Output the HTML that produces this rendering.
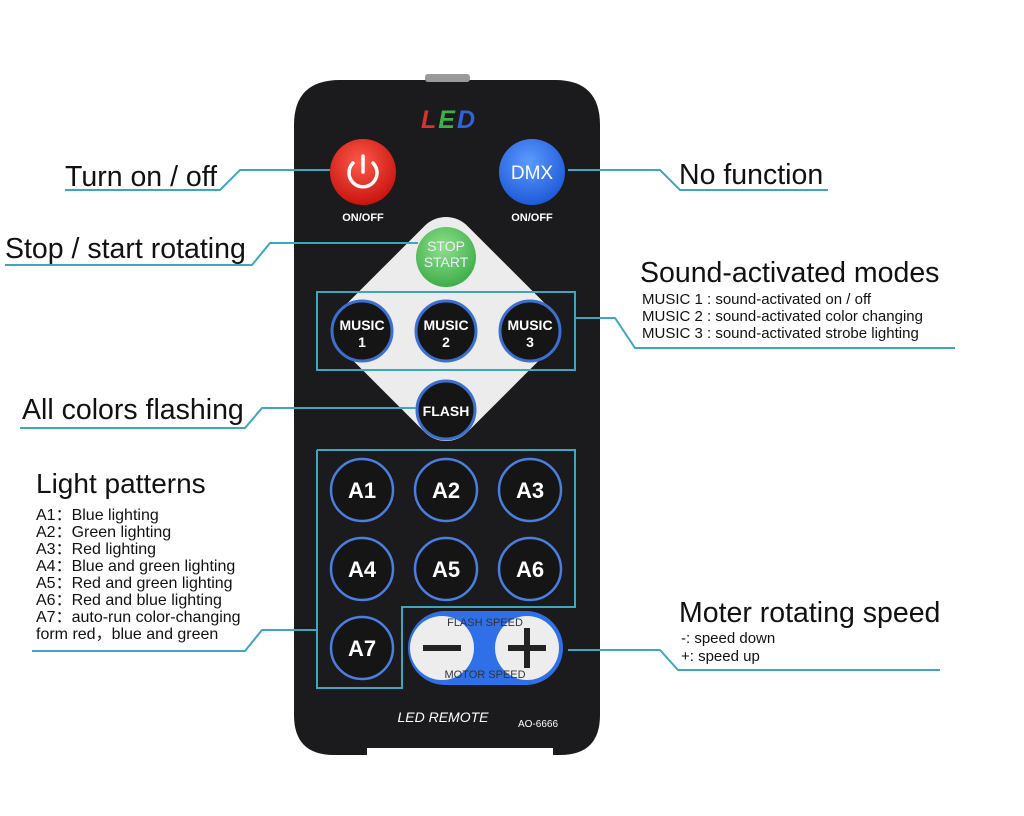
<!DOCTYPE html>
<html><head><meta charset="utf-8"><style>
body{margin:0;background:#fff;}
svg{display:block;font-family:"Liberation Sans",sans-serif;}
</style></head><body>
<svg width="1024" height="816" viewBox="0 0 1024 816">
<defs>
<radialGradient id="red" cx="45%" cy="35%" r="65%"><stop offset="0" stop-color="#ff5a4a"/><stop offset="1" stop-color="#c81410"/></radialGradient>
<radialGradient id="blue" cx="45%" cy="35%" r="65%"><stop offset="0" stop-color="#5b9cff"/><stop offset="1" stop-color="#1f5ad8"/></radialGradient>
<radialGradient id="green" cx="45%" cy="35%" r="65%"><stop offset="0" stop-color="#8fe08a"/><stop offset="1" stop-color="#3fae4a"/></radialGradient>
</defs>
<path d="M340,80 H555 Q600,80 600,125 V715 Q600,755 560,755 H553 V748 H367 V755 H334 Q294,755 294,715 V125 Q294,80 340,80 Z" fill="#1b1b1d"/>
<rect x="425" y="74" width="45" height="8" rx="3" fill="#999"/>
<text x="449" y="128" font-size="25" font-weight="bold" font-style="italic" text-anchor="middle" letter-spacing="2"><tspan fill="#d9322a">L</tspan><tspan fill="#3db04a">E</tspan><tspan fill="#2d64d8">D</tspan></text>
<circle cx="363" cy="172" r="33" fill="url(#red)"/>
<path d="M353,163 A14,14 0 1 0 373,163" fill="none" stroke="#fff" stroke-width="3.5" stroke-linecap="round"/>
<line x1="363" y1="156" x2="363" y2="172" stroke="#fff" stroke-width="3.5" stroke-linecap="round"/>
<text x="363" y="221" font-size="11" font-weight="bold" fill="#fff" text-anchor="middle">ON/OFF</text>
<circle cx="532" cy="172" r="33" fill="url(#blue)"/>
<text x="532" y="179" font-size="19" fill="#fff" text-anchor="middle">DMX</text>
<text x="532" y="221" font-size="11" font-weight="bold" fill="#fff" text-anchor="middle">ON/OFF</text>
<rect x="358" y="241" width="176" height="176" rx="30" fill="#ececec" transform="rotate(45 446 329)"/>
<circle cx="446" cy="257" r="30" fill="url(#green)"/>
<text x="446" y="251" font-size="14" fill="#eef" text-anchor="middle">STOP</text>
<text x="446" y="267" font-size="14" fill="#eef" text-anchor="middle">START</text>
<g fill="#151515" stroke="#3b6fd0" stroke-width="3">
<circle cx="362" cy="331" r="30"/><circle cx="446" cy="331" r="30"/><circle cx="530" cy="331" r="30"/>
<circle cx="446" cy="410" r="29"/>
</g>
<g font-size="14" fill="#fff" text-anchor="middle" font-weight="bold">
<text x="362" y="330">MUSIC</text><text x="362" y="347">1</text>
<text x="446" y="330">MUSIC</text><text x="446" y="347">2</text>
<text x="530" y="330">MUSIC</text><text x="530" y="347">3</text>
<text x="446" y="416">FLASH</text>
</g>
<g fill="#151515" stroke="#4a7ee0" stroke-width="2.5">
<circle cx="362" cy="490" r="31"/><circle cx="446" cy="490" r="31"/><circle cx="530" cy="490" r="31"/>
<circle cx="362" cy="569" r="31"/><circle cx="446" cy="569" r="31"/><circle cx="530" cy="569" r="31"/>
<circle cx="362" cy="648" r="31"/>
</g>
<g font-size="22" font-weight="bold" fill="#fff" text-anchor="middle">
<text x="362" y="498">A1</text><text x="446" y="498">A2</text><text x="530" y="498">A3</text>
<text x="362" y="577">A4</text><text x="446" y="577">A5</text><text x="530" y="577">A6</text>
<text x="362" y="656">A7</text>
</g>
<rect x="408" y="611" width="155" height="74" rx="37" fill="#2f6fe8"/>
<circle cx="442" cy="648" r="32" fill="#ededed"/>
<circle cx="527" cy="648" r="32" fill="#ededed"/>
<rect x="423" y="645" width="38" height="6" fill="#222"/>
<rect x="508" y="645" width="38" height="6" fill="#222"/>
<rect x="524" y="628" width="6" height="40" fill="#222"/>
<text x="485" y="626" font-size="11" fill="#333" text-anchor="middle">FLASH SPEED</text>
<text x="485" y="678" font-size="11" fill="#333" text-anchor="middle">MOTOR SPEED</text>
<text x="443" y="722" font-size="14" font-style="italic" fill="#fff" text-anchor="middle">LED REMOTE</text>
<text x="538" y="727" font-size="10" fill="#fff" text-anchor="middle">AO-6666</text>
<g fill="none" stroke="#3fa6c0" stroke-width="2">
<rect x="317" y="292" width="258" height="78"/>
<polyline points="317,450 575,450 575,607 402,607 402,688 317,688 317,450"/>
<polyline points="65,190 220,190 240,170 330,170"/>
<polyline points="568,170 660,170 680,190 828,190"/>
<polyline points="5,265 252,265 270,243 418,243"/>
<polyline points="575,318 615,318 635,348 955,348"/>
<polyline points="20,428 245,428 262,408 416,408"/>
<polyline points="32,651 245,651 262,630 318,630"/>
<polyline points="568,650 660,650 678,670 940,670"/>
</g>
<g fill="#111">
<text x="65" y="186" font-size="28.5">Turn on / off</text>
<text x="679" y="184" font-size="28.5">No function</text>
<text x="5" y="258" font-size="28.5">Stop / start rotating</text>
<text x="640" y="282" font-size="28.5">Sound-activated modes</text>
<g font-size="15">
<text x="642" y="304">MUSIC 1 : sound-activated on / off</text>
<text x="642" y="321">MUSIC 2 : sound-activated color changing</text>
<text x="642" y="338">MUSIC 3 : sound-activated strobe lighting</text>
</g>
<text x="22" y="419" font-size="28.5">All colors flashing</text>
<text x="36" y="493" font-size="28">Light patterns</text>
<g font-size="16" font-family="Liberation Sans, Noto Sans CJK SC, sans-serif">
<text x="36" y="520">A1：Blue lighting</text>
<text x="36" y="537">A2：Green lighting</text>
<text x="36" y="554">A3：Red lighting</text>
<text x="36" y="571">A4：Blue and green lighting</text>
<text x="36" y="588">A5：Red and green lighting</text>
<text x="36" y="605">A6：Red and blue lighting</text>
<text x="36" y="622">A7：auto-run color-changing</text>
<text x="36" y="639">form red，blue and green</text>
</g>
<text x="679" y="622" font-size="28.5">Moter rotating speed</text>
<text x="681" y="643" font-size="15">-:  speed down</text>
<text x="681" y="661" font-size="15">+:  speed up</text>
</g>
</svg>
</body></html>
